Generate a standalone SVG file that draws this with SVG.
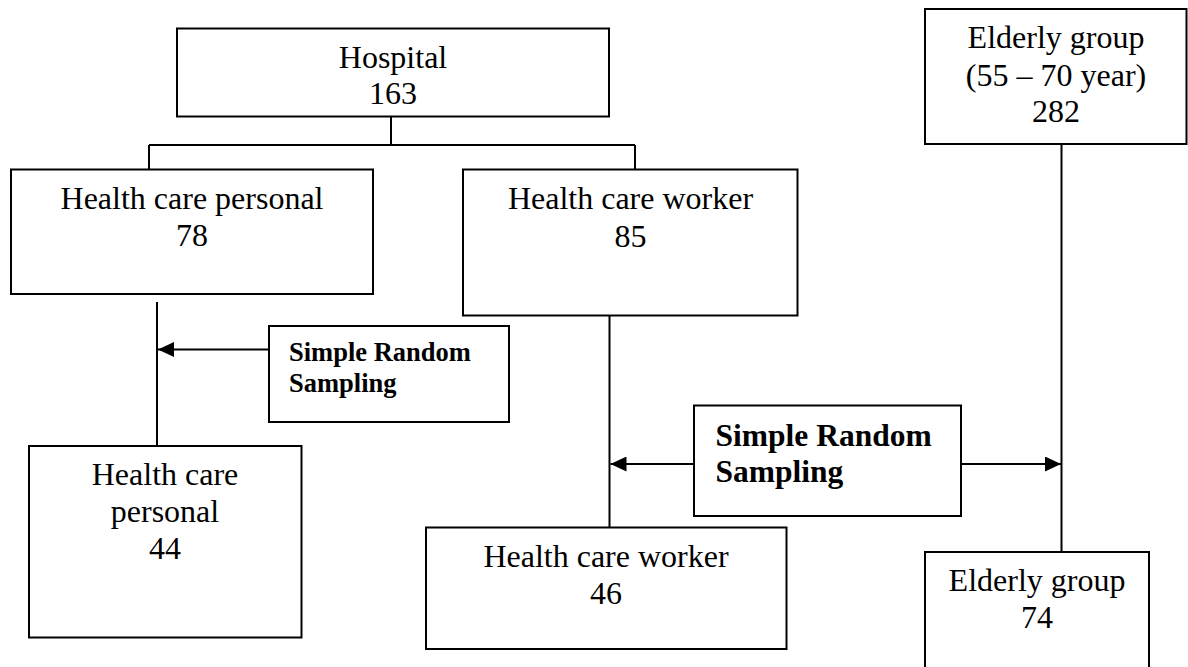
<svg xmlns="http://www.w3.org/2000/svg" width="1188" height="667" viewBox="0 0 1188 667">
<style>
.box{fill:#fff;stroke:#000;stroke-width:2}
.ln{fill:none;stroke:#000;stroke-width:2}
.t{font-family:"Liberation Serif","Times New Roman",serif;font-size:32px;fill:#000;text-anchor:middle}
.b{font-family:"Liberation Serif","Times New Roman",serif;font-weight:bold;fill:#000}
</style>
<defs>
<marker id="ah" markerUnits="userSpaceOnUse" markerWidth="16" markerHeight="15" refX="16" refY="7.5" orient="auto">
<path d="M0,0 L16,7.5 L0,15 Z" fill="#000"/>
</marker>
</defs>
<rect width="1188" height="667" fill="#fff"/>
<g id="connectors">
<path class="ln" d="M391,117 V145 M149,145 H635 M149,145 V169 M635,145 V169"/>
<path class="ln" d="M157,302 V446"/>
<path class="ln" d="M609.5,316 V527"/>
<path class="ln" d="M1061.5,144 V552"/>
<line class="ln" x1="269" y1="349.5" x2="158" y2="349.5" marker-end="url(#ah)"/>
<line class="ln" x1="694" y1="464" x2="610.5" y2="464" marker-end="url(#ah)"/>
<line class="ln" x1="961" y1="464" x2="1061" y2="464" marker-end="url(#ah)"/>
</g>
<g id="hospital">
<rect class="box" x="177" y="28.5" width="432" height="88"/>
<text class="t" x="393" y="68">Hospital</text>
<text class="t" x="393" y="104">163</text>
</g>
<g id="hcp">
<rect class="box" x="11" y="169.5" width="362" height="124.5"/>
<text class="t" x="192" y="209">Health care personal</text>
<text class="t" x="192" y="246">78</text>
</g>
<g id="hcw">
<rect class="box" x="463" y="169.5" width="334.5" height="146"/>
<text class="t" x="630.5" y="209">Health care worker</text>
<text class="t" x="630.5" y="246.5">85</text>
</g>
<g id="elderly">
<rect class="box" x="925" y="9" width="261.5" height="135"/>
<text class="t" x="1056" y="48">Elderly group</text>
<text class="t" x="1056" y="86">(55 – 70 year)</text>
<text class="t" x="1056" y="121.5">282</text>
</g>
<g id="srs1">
<rect class="box" x="269" y="326" width="240" height="96"/>
<text class="b" x="289" y="361" font-size="26.5">Simple Random</text>
<text class="b" x="289" y="391.5" font-size="26.5">Sampling</text>
</g>
<g id="srs2">
<rect class="box" x="694" y="405.5" width="267" height="110.5"/>
<text class="b" x="715.5" y="445.5" font-size="31.5">Simple Random</text>
<text class="b" x="715.5" y="482" font-size="31.5">Sampling</text>
</g>
<g id="hcp2">
<rect class="box" x="29" y="446" width="272.5" height="191.5"/>
<text class="t" x="165" y="485">Health care</text>
<text class="t" x="165" y="521.5">personal</text>
<text class="t" x="165" y="559">44</text>
</g>
<g id="hcw2">
<rect class="box" x="426" y="527.5" width="360.5" height="121.5"/>
<text class="t" x="606" y="566.5">Health care worker</text>
<text class="t" x="606" y="604">46</text>
</g>
<g id="elderly2">
<rect class="box" x="925" y="552" width="224" height="130"/>
<text class="t" x="1037" y="590.5">Elderly group</text>
<text class="t" x="1037" y="628">74</text>
</g>
</svg>
